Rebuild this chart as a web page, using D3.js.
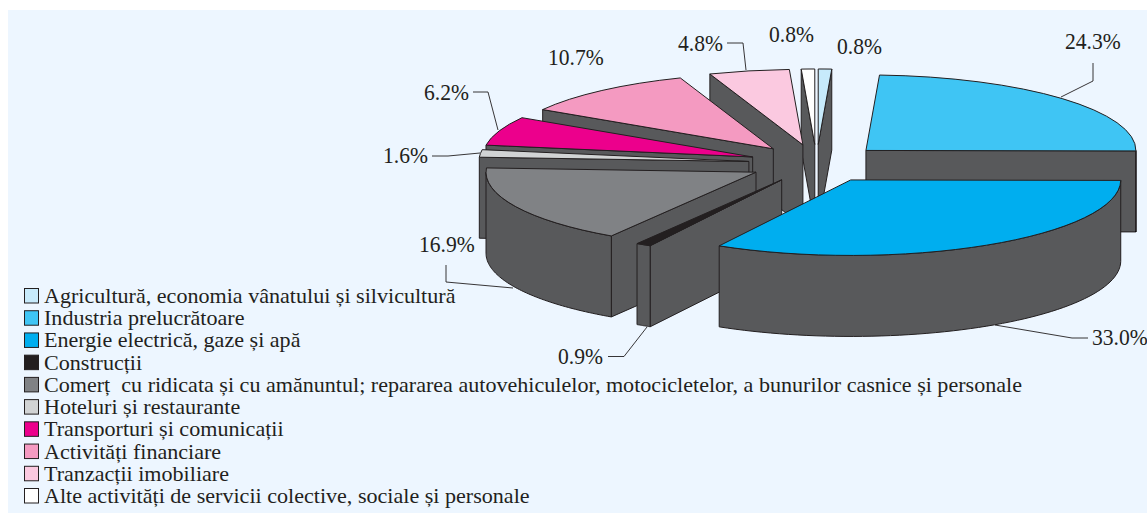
<!DOCTYPE html>
<html><head><meta charset="utf-8">
<script src="https://cdn.jsdelivr.net/npm/d3@7"></script>
<style>html,body{margin:0;padding:0;background:#fff}svg{display:block}text{font-family:"Liberation Serif","Times New Roman",serif;fill:#231f20}</style>
</head><body><svg id="c" width="1147" height="513"></svg>
<script>
const categories = ["Agricultură, economia vânatului și silvicultură","Industria prelucrătoare","Energie electrică, gaze și apă","Construcții","Comerț  cu ridicata și cu amănuntul; repararea autovehiculelor, motocicletelor, a bunurilor casnice și personale","Hoteluri și restaurante","Transporturi și comunicații","Activități financiare","Tranzacții imobiliare","Alte activități de servicii colective, sociale și personale"];
const values = [0.8,24.3,33.0,0.9,16.9,1.6,6.2,10.7,4.8,0.8];
const colors = ["#c7eafb","#3fc5f4","#00aeef","#231f20","#808285","#d1d3d4","#ec008c","#f49ac1","#fbc9e0","#ffffff"];

// layout
const W=1147,H=513, cx=816.5, cy=163.5, rx=270, ry=75.5, depth=81, explode=68;
const wallColor="#58595b", lineColor="#231f20";
const labelPos=[[837,54],[1065,49],[1092,345],[558,364],[419,252],[383,163],[424,100],[548,65],[678,51],[769,42]];
const leaders=[null,[[1093,63],[1093,81],[1061,97]],[[1088,338],[1072,338],[995,325]],[[608,356.5],[624,356.5],[647,327]],[[446,265],[446,282],[513,288]],[[432,156],[448,156],[480,153]],[[473,92],[488,92],[498,130]],null,[[727,43],[743,43],[746,70]],null];

const svg=d3.select("#c");
svg.append("rect").attr("x",8).attr("y",10).attr("width",W-8).attr("height",H-10).attr("fill","#edf6ff");

const pie=d3.pie().sort(null).value(d=>d)(values);
const sx=d3.scaleLinear().domain([-1,1]).range([-rx,rx]);
const sy=d3.scaleLinear().domain([-1,1]).range([ry,-ry]); // +1 = far side
const slices=pie.map((p,i)=>{
  const mid=(p.startAngle+p.endAngle)/2;
  const ax=cx+sx(explode/rx*Math.sin(mid)), ay=cy+sy(explode/rx*Math.cos(mid));
  const at=t=>[ax+sx(Math.sin(t)),ay+sy(Math.cos(t))];
  return {i,p,ax,ay,at};
}).sort((a,b)=>d3.ascending(a.ay,b.ay));

const line=d3.line();
const arcTop=d3.arc().innerRadius(0).outerRadius(rx);
const g=svg.append("g");
const wall=(pts)=>g.append("path").attr("d",line(pts.concat(pts.map(q=>[q[0],q[1]+depth]).reverse()))+"Z")
  .attr("fill",wallColor).attr("stroke",lineColor).attr("stroke-width",1).attr("stroke-linejoin","round");
slices.forEach(s=>{
  const {p,ax,ay,at}=s, a=p.startAngle,b=p.endAngle, A=[ax,ay], P=at(a), Q=at(b);
  // a wall shows when its top edge runs leftward on the clockwise outline
  if(P[0]<A[0]-0.01) wall([A,P]);
  if(A[0]<Q[0]-0.01) wall([Q,A]);
  const lo=Math.max(a,Math.PI/2), hi=Math.min(b,3*Math.PI/2);
  if(hi>lo){ wall(d3.range(0,61).map(k=>at(lo+(hi-lo)*k/60))); }
  g.append("path").attr("d",arcTop({startAngle:a,endAngle:b}))
    .attr("transform",`translate(${ax},${ay}) scale(1,${ry/rx})`)
    .attr("vector-effect","non-scaling-stroke")
    .attr("fill",colors[s.i]).attr("stroke",lineColor).attr("stroke-width",1).attr("stroke-linejoin","round");
});

const pct=d3.format(".1f");
values.forEach((v,i)=>{
  svg.append("text").attr("transform",`translate(${labelPos[i][0]},${labelPos[i][1]}) scale(0.9,1)`).attr("font-size",24).text(pct(v)+"%");
  if(leaders[i]) svg.append("path").attr("d",line(leaders[i])).attr("fill","none").attr("stroke",lineColor).attr("stroke-width",0.9);
});

const rowY=d3.scalePoint().domain(d3.range(categories.length)).range([303,503]);
const lg=svg.append("g");
categories.forEach((c,i)=>{
  lg.append("rect").attr("x",24.5).attr("y",rowY(i)-14.5).attr("width",14).attr("height",14.5).attr("fill",colors[i]).attr("stroke",lineColor).attr("stroke-width",1);
  lg.append("text").attr("transform",`translate(44,${rowY(i)}) scale(1.078,1)`).attr("font-size",20.5).attr("xml:space","preserve").style("white-space","pre").text(c);
});
</script></body></html>
